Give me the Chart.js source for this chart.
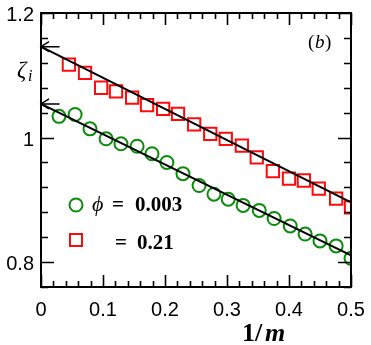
<!DOCTYPE html>
<html>
<head>
<meta charset="utf-8">
<script src="https://cdn.jsdelivr.net/npm/chart.js@4/dist/chart.umd.min.js"></script>
<style>
  html, body { margin: 0; padding: 0; background: #fff; }
  #wrap { width: 371px; height: 345px; }
</style>
</head>
<body>
<div id="wrap"><canvas id="zetaChart" width="371" height="345"></canvas></div>
<script>
// phi = 0.003 (green circles)
var greenX = [0.029, 0.055, 0.079, 0.105, 0.129, 0.155, 0.179, 0.203, 0.229, 0.255,
              0.279, 0.302, 0.326, 0.352, 0.376, 0.402, 0.426, 0.45, 0.476, 0.5];
var greenY = [1.034, 1.037, 1.014, 0.998, 0.990, 0.986, 0.974, 0.960, 0.942, 0.923,
              0.909, 0.901, 0.891, 0.883, 0.870, 0.858, 0.845, 0.834, 0.826, 0.806];

// phi = 0.21 (red squares)
var redX = [0.045, 0.071, 0.097, 0.121, 0.147, 0.171, 0.197, 0.221, 0.247, 0.273,
            0.298, 0.324, 0.348, 0.374, 0.4, 0.424, 0.448, 0.476, 0.5];
var redY = [1.117, 1.104, 1.080, 1.074, 1.064, 1.052, 1.046, 1.038, 1.021, 1.006,
            0.998, 0.987, 0.968, 0.946, 0.934, 0.931, 0.918, 0.902, 0.888];

// linear fits, extrapolated to 1/m = 0
var fitX = [0, 0.5];
var greenFit = [1.054, 0.811];
var redFit = [1.146, 0.896];

// axes: minor ticks every step, labels only on the major ones
var xMin = 0, xMax = 0.5, xStep = 0.02;
var yMin = 0.76, yMax = 1.2, yStep = 0.04;
var xLabels = ['0', '0.1', '0.2', '0.3', '0.4', '0.5'];
var yLabels = ['0.8', '1', '1.2'];

var green = 'rgb(10, 140, 10)';
var red = 'rgb(255, 10, 10)';

function pts(xs, ys) {
  return xs.map(function (x, i) { return { x: x, y: ys[i] }; });
}

function isMajor(v, every) {
  var r = v / every;
  return Math.abs(r - Math.round(r)) < 1e-6;
}

// frame, inward ticks on all four sides, tick labels, arrows, legend and texts
var decorPlugin = {
  id: 'decor',
  afterDatasetsDraw: function (chart) {
    var ctx = chart.ctx, a = chart.chartArea;
    var xs = chart.scales.x, ys = chart.scales.y;
    ctx.save();
    ctx.strokeStyle = '#000';
    ctx.lineWidth = 2;
    ctx.strokeRect(a.left, a.top, a.right - a.left, a.bottom - a.top);

    ctx.lineWidth = 1.6;
    ctx.beginPath();
    xs.ticks.forEach(function (t) {
      var px = Math.round(xs.getPixelForValue(t.value)) + 0.5;
      var len = isMajor(t.value, 0.1) ? 12 : 6;
      ctx.moveTo(px, a.bottom); ctx.lineTo(px, a.bottom - len);
      ctx.moveTo(px, a.top); ctx.lineTo(px, a.top + len);
    });
    ys.ticks.forEach(function (t) {
      var py = Math.round(ys.getPixelForValue(t.value)) + 0.5;
      var len = isMajor(t.value, 0.2) ? 13 : 7;
      ctx.moveTo(a.left, py); ctx.lineTo(a.left + len, py);
      ctx.moveTo(a.right, py); ctx.lineTo(a.right - len, py);
    });
    ctx.stroke();

    // tick labels
    ctx.fillStyle = '#000';
    ctx.font = '20px "Liberation Sans"';
    ctx.textBaseline = 'alphabetic';
    ctx.textAlign = 'center';
    xLabels.forEach(function (s) {
      ctx.fillText(s, xs.getPixelForValue(parseFloat(s)), 316);
    });
    ctx.textAlign = 'right';
    yLabels.forEach(function (s) {
      ctx.fillText(s, 34, ys.getPixelForValue(parseFloat(s)) + 8);
    });

    // arrows at the intercepts
    ctx.lineWidth = 1.5;
    [redFit[0], greenFit[0]].forEach(function (v) {
      var y = ys.getPixelForValue(v);
      var x0 = xs.getPixelForValue(0), x1 = xs.getPixelForValue(0.03);
      ctx.beginPath();
      ctx.moveTo(x1, y); ctx.lineTo(x0, y);
      ctx.moveTo(x0 + 8, y - 5); ctx.lineTo(x0, y); ctx.lineTo(x0 + 8, y + 5);
      ctx.stroke();
    });

    // legend
    ctx.lineWidth = 2;
    ctx.strokeStyle = green;
    ctx.beginPath();
    ctx.arc(76, 205, 6.5, 0, Math.PI * 2);
    ctx.stroke();
    ctx.strokeStyle = red;
    ctx.strokeRect(70, 234, 12, 12);

    ctx.textAlign = 'left';
    ctx.font = 'italic 22px "Liberation Serif"';
    ctx.fillText('\u03d5', 92, 211);
    ctx.font = 'bold 21px "Liberation Serif"';
    ctx.fillText('=', 112, 211);
    ctx.fillText('0.003', 135, 211);
    ctx.fillText('=', 115, 249);
    ctx.fillText('0.21', 137, 249);

    // axis titles and panel tag
    ctx.font = 'italic 23px "Liberation Serif"';
    ctx.fillText('\u03b6', 17, 77);
    ctx.font = 'italic 16px "Liberation Serif"';
    ctx.fillText('i', 28, 81);

    ctx.font = '19px "Liberation Serif"';
    ctx.fillText('(', 308, 48);
    ctx.font = 'italic 19px "Liberation Serif"';
    ctx.fillText('b', 315, 48);
    ctx.font = '19px "Liberation Serif"';
    ctx.fillText(')', 325, 48);

    ctx.font = 'bold 26px "Liberation Serif"';
    ctx.fillText('1/', 242, 341);
    ctx.font = 'bold italic 26px "Liberation Serif"';
    ctx.fillText('m', 265, 341);
    ctx.restore();
  }
};

var ctx = document.getElementById('zetaChart').getContext('2d');
var zetaChart = new Chart(ctx, {
  type: 'scatter',
  data: {
    datasets: [{
      label: 'fit 0.21',
      type: 'line',
      data: pts(fitX, redFit),
      borderColor: '#000',
      borderWidth: 2,
      pointRadius: 0,
      fill: false
    }, {
      label: 'fit 0.003',
      type: 'line',
      data: pts(fitX, greenFit),
      borderColor: '#000',
      borderWidth: 2,
      pointRadius: 0,
      fill: false
    }, {
      label: '\u03d5 = 0.003',
      data: pts(greenX, greenY),
      pointStyle: 'circle',
      pointRadius: 6.5,
      borderWidth: 2,
      borderColor: green,
      backgroundColor: 'rgba(0,0,0,0)'
    }, {
      label: '= 0.21',
      data: pts(redX, redY),
      pointStyle: 'rect',
      pointRadius: 8.7,
      borderWidth: 2,
      borderColor: red,
      backgroundColor: 'rgba(0,0,0,0)'
    }]
  },
  options: {
    responsive: false,
    animation: false,
    layout: { padding: { top: 13, right: 20, left: 0, bottom: 0 } },
    plugins: {
      legend: { display: false },
      tooltip: { enabled: false }
    },
    scales: {
      x: {
        type: 'linear',
        min: xMin,
        max: xMax,
        grid: { display: false },
        border: { display: false },
        afterFit: function (s) { s.height = 58; },
        ticks: { stepSize: xStep, autoSkip: false, display: false }
      },
      y: {
        type: 'linear',
        min: yMin,
        max: yMax,
        grid: { display: false },
        border: { display: false },
        afterFit: function (s) { s.width = 41; },
        ticks: { stepSize: yStep, autoSkip: false, display: false }
      }
    }
  },
  plugins: [decorPlugin]
});
</script>
</body>
</html>
